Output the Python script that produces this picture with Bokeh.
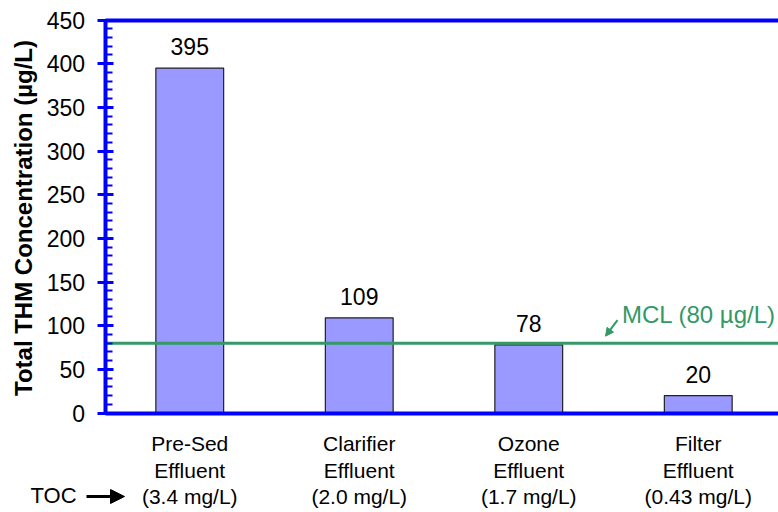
import math
from bokeh.plotting import figure
from bokeh.models import (ColumnDataSource, Range1d, SingleIntervalTicker, FixedTicker,
                          LinearAxis, LabelSet, Label, Arrow, NormalHead)
from bokeh.core.properties import value
from bokeh.embed import file_html
from bokeh.resources import INLINE

# Treatment stages, their TOC and total THM results
stages = ["Pre-Sed", "Clarifier", "Ozone", "Filter"]
stage_suffix = ["Effluent", "Effluent", "Effluent", "Effluent"]
toc_mg_l = ["3.4", "2.0", "1.7", "0.43"]
thm_ug_l = [395, 109, 78, 20]
mcl_ug_l = 80
y_max = 450
y_tick_step = 50

FONT = "Liberation Sans"
BLUE = "#0000FF"
GREEN = "#339966"

# Page geometry (pixels): the frame fills the whole canvas and the axes sit inside it
W, H = 778, 512
AX_X = 104.5      # column of the value axis
AX_Y0 = 412.5     # row of zero
AX_YTOP = 19.5    # row of y_max
SLOT = 169.5      # width of one stage slot
PX_PER_UNIT = (AX_Y0 - AX_YTOP) / y_max


def dx(px):
    return (px - AX_X) / SLOT


def dy(py):
    return (AX_Y0 - py) / PX_PER_UNIT


x_end = dx(W)
x_pos = [i + 0.5 for i in range(len(stages))]
src = ColumnDataSource(dict(
    x=x_pos,
    thm=thm_ug_l,
    thm_text=[str(v) for v in thm_ug_l],
    zero=[0] * len(stages),
    line1=stages,
    line2=stage_suffix,
    line3=[f"({t} mg/L)" for t in toc_mg_l],
))

p = figure(width=W, height=H,
           x_range=Range1d(dx(0), x_end), y_range=Range1d(dy(H), dy(0)),
           x_axis_location=None, y_axis_location=None,
           output_backend="svg", toolbar_location=None,
           min_border_left=0, min_border_right=0, min_border_top=0, min_border_bottom=0)
p.outline_line_color = None
p.grid.visible = False
p.background_fill_color = "white"
p.border_fill_color = "white"

# value axis: thick blue line, crossing major ticks, inside minor ticks
ya = LinearAxis(fixed_location=0, bounds=(0, y_max),
                ticker=SingleIntervalTicker(interval=y_tick_step, num_minor_ticks=5))
ya.axis_line_color = BLUE
ya.axis_line_width = 4
ya.major_tick_line_color = BLUE
ya.major_tick_line_width = 3
ya.major_tick_in = 8
ya.major_tick_out = 8
ya.minor_tick_line_color = BLUE
ya.minor_tick_line_width = 2
ya.minor_tick_in = 7
ya.minor_tick_out = 0
ya.major_label_standoff = 12
ya.major_label_text_font = FONT
ya.major_label_text_font_size = "23px"
ya.major_label_text_color = "black"
p.add_layout(ya, "left")

# bare blue baseline and top border
for loc, side in ((0, "below"), (y_max, "above")):
    ax = LinearAxis(fixed_location=loc, bounds=(0, x_end), ticker=FixedTicker(ticks=[]))
    ax.axis_line_color = BLUE
    ax.axis_line_width = 4
    ax.major_tick_line_color = None
    ax.minor_tick_line_color = None
    ax.major_label_text_font_size = "0px"
    p.add_layout(ax, side)

p.vbar(x="x", top="thm", bottom=0, width=0.4, source=src,
       fill_color="#9999FF", line_color="#222222", line_width=1.2)

# MCL reference line
p.segment(x0=[0], y0=[mcl_ug_l], x1=[x_end], y1=[mcl_ug_l], line_color=GREEN, line_width=3)
p.add_layout(Label(x=dx(621.5), y=mcl_ug_l, y_offset=29, text=f"MCL ({mcl_ug_l} µg/L)",
                   text_font=FONT, text_font_size="24px",
                   text_color=GREEN, text_align="left", text_baseline="middle"))
p.add_layout(Arrow(end=NormalHead(size=8, fill_color=GREEN, line_color=GREEN, line_width=1),
                   x_start=dx(617), y_start=mcl_ug_l + 23 / PX_PER_UNIT,
                   x_end=dx(605), y_end=mcl_ug_l + 7 / PX_PER_UNIT,
                   line_color=GREEN, line_width=2))

# axis title
p.add_layout(Label(x=dx(22.5), y=dy(217.5), angle=math.pi / 2,
                   text="Total THM Concentration (µg/L)",
                   text_font=FONT, text_font_size="24px", text_font_style="bold",
                   text_color="black", text_align="center", text_baseline="middle"))

# value labels
p.add_layout(LabelSet(x="x", y="thm", text="thm_text", source=src, y_offset=13,
                      text_font=value(FONT), text_font_size=value("23px"), text_color="black",
                      text_align="center", text_baseline="alphabetic"))

# stage labels, three lines
for col, off in (("line1", -38), ("line2", -64.5), ("line3", -91)):
    p.add_layout(LabelSet(x="x", y="zero", text=col, source=src, y_offset=off,
                          text_font=value(FONT), text_font_size=value("21px"), text_color="black",
                          text_align="center", text_baseline="alphabetic"))

# TOC row marker
p.add_layout(Label(x=dx(30), y=0, y_offset=-82.5, text="TOC",
                   text_font=FONT, text_font_size="22px", text_color="black",
                   text_align="left", text_baseline="middle"))
p.add_layout(Arrow(end=NormalHead(size=14, fill_color="black", line_color="black", line_width=1),
                   x_start=dx(86), y_start=dy(496),
                   x_end=dx(124), y_end=dy(496),
                   line_color="black", line_width=3))

open("out.html", "w").write(file_html(p, INLINE))
